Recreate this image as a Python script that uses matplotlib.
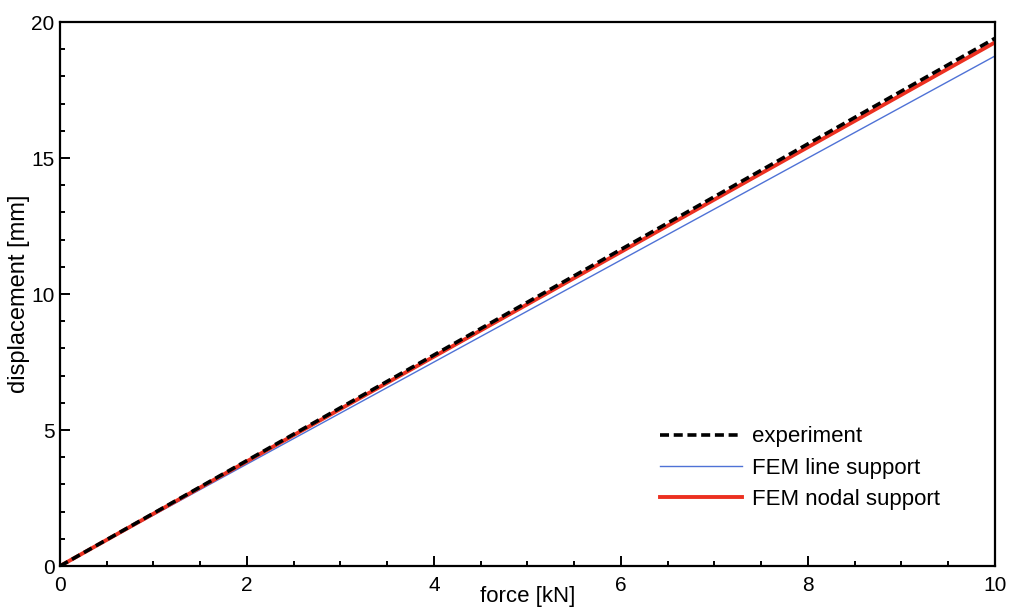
"""Force-displacement curve: experiment against two FEM support models."""

import matplotlib

matplotlib.use("Agg")
import matplotlib.pyplot as plt
from matplotlib.ticker import MultipleLocator

plt.rcParams["font.family"] = ["Liberation Sans", "DejaVu Sans"]

force = [0.0, 2.0, 4.0, 6.0, 8.0, 10.0]
experiment = [0.0, 3.88, 7.76, 11.64, 15.52, 19.4]
fem_line = [0.0, 3.75, 7.5, 11.25, 15.0, 18.75]
fem_nodal = [0.0, 3.85, 7.7, 11.55, 15.4, 19.25]

fig = plt.figure(figsize=(10.1, 6.08), dpi=100)
ax = fig.add_axes([0.0594, 0.069, 0.9257, 0.8948])

ax.plot(force, experiment, color="black", linewidth=2.6,
        dashes=(2.5, 1.3), label="experiment", zorder=3)
ax.plot(force, fem_line, color="#4f72d6", linewidth=1.0,
        label="FEM line support", zorder=2)
ax.plot(force, fem_nodal, color="#ec3020", linewidth=2.8,
        label="FEM nodal support", zorder=2.5)

ax.set_xlim(0, 10)
ax.set_ylim(0, 20)
ax.xaxis.set_major_locator(MultipleLocator(2))
ax.xaxis.set_minor_locator(MultipleLocator(0.5))
ax.yaxis.set_major_locator(MultipleLocator(5))
ax.yaxis.set_minor_locator(MultipleLocator(1))
ax.tick_params(which="both", direction="in", top=False, right=False,
               labelsize=15, width=1.4)
ax.tick_params(which="major", length=7)
ax.tick_params(which="minor", length=3.5)
ax.tick_params(axis="x", pad=7.5)
ax.tick_params(axis="y", pad=4)
for spine in ax.spines.values():
    spine.set_linewidth(1.6)

# the label sits tight under the tick numbers, as in the source figure
ax.set_xlabel("force [kN]", fontsize=16, labelpad=-7)
ax.set_ylabel("displacement [mm]", fontsize=17, labelpad=1)

ax.legend(loc="lower right", bbox_to_anchor=(0.951, 0.087), frameon=False,
          borderaxespad=0, fontsize=16, handlelength=3.7, handletextpad=0.45,
          labelspacing=0.46)

fig.savefig("out.png", dpi=100)
